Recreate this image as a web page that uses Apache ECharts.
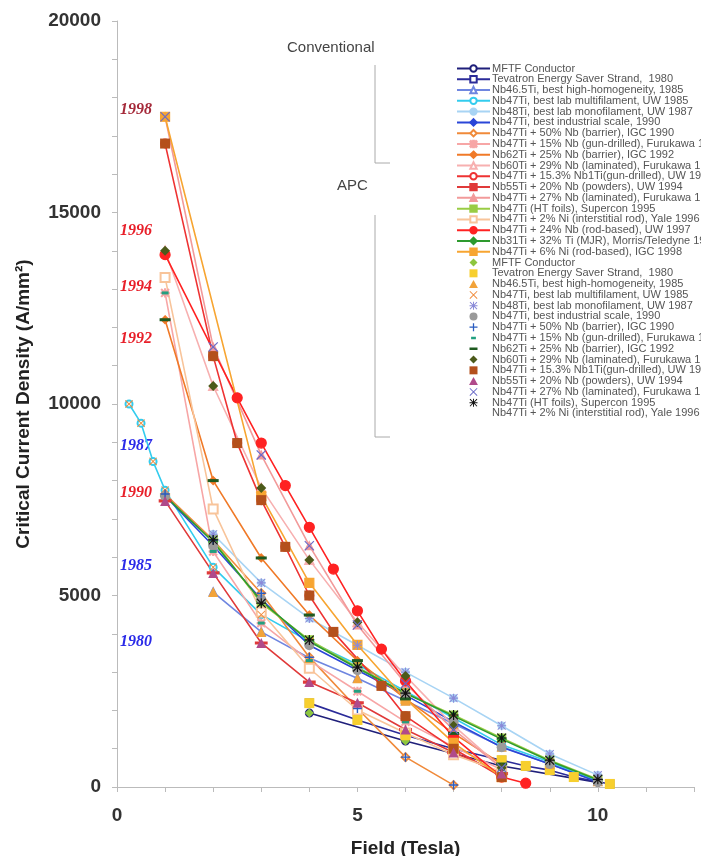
<!DOCTYPE html>
<html><head><meta charset="utf-8">
<script src="https://cdn.jsdelivr.net/npm/echarts@6/dist/echarts.min.js"></script>
<style>html,body{margin:0;padding:0;background:#fff}#c{width:701px;height:856px}</style>
</head><body><div id="c"></div>
<script>
// ---- series names ----
const names = [
  'MFTF Conductor',
  'Tevatron Energy Saver Strand,  1980',
  'Nb46.5Ti, best high-homogeneity, 1985',
  'Nb47Ti, best lab multifilament, UW 1985',
  'Nb48Ti, best lab monofilament, UW 1987',
  'Nb47Ti, best industrial scale, 1990',
  'Nb47Ti + 50% Nb (barrier), IGC 1990',
  'Nb47Ti + 15% Nb (gun-drilled), Furukawa 1992',
  'Nb62Ti + 25% Nb (barrier), IGC 1992',
  'Nb60Ti + 29% Nb (laminated), Furukawa 1993',
  'Nb47Ti + 15.3% Nb1Ti(gun-drilled), UW 1994',
  'Nb55Ti + 20% Nb (powders), UW 1994',
  'Nb47Ti + 27% Nb (laminated), Furukawa 1995',
  'Nb47Ti (HT foils), Supercon 1995',
  'Nb47Ti + 2% Ni (interstitial rod), Yale 1996',
  'Nb47Ti + 24% Nb (rod-based), UW 1997',
  'Nb31Ti + 32% Ti (MJR), Morris/Teledyne 1997',
  'Nb47Ti + 6% Ni (rod-based), IGC 1998'
];

// ---- data (Field in T, Jc in A/mm2) ----
const mftfX = [4, 6, 8, 10];
const mftfY = [1930, 1200, 550, 120];
const tevX = [4, 5, 6, 7, 8, 8.5, 9, 9.5, 10.25];
const tevY = [2190, 1750, 1350, 1000, 700, 550, 440, 260, 80];
const hhX = [2, 3, 4, 5, 6, 7, 8, 9, 10];
const hhY = [5090, 4050, 3370, 2840, 2250, 1650, 1050, 600, 150];
const multiX = [0.25, 0.5, 0.75, 1, 2, 3, 4, 5, 6, 7, 8, 9, 10];
const multiY = [10000, 9500, 8500, 7750, 5740, 4500, 3800, 3200, 2500, 1800, 1100, 650, 150];
const monoX = [2, 3, 4, 5, 6, 7, 8, 9, 10];
const monoY = [6600, 5330, 4400, 3700, 3000, 2320, 1600, 860, 310];
const indX = [1, 2, 3, 4, 5, 6, 7, 8, 9, 10];
const indY = [7600, 6300, 4900, 3700, 3050, 2400, 1700, 1040, 600, 130];
const igc90X = [1, 2, 3, 4, 5, 6, 7];
const igc90Y = [7650, 6450, 5060, 3390, 2050, 780, 50];
const fgunX = [1, 2, 3, 4, 5, 6, 7, 8];
const fgunY = [12900, 6150, 4280, 3300, 2500, 1700, 1050, 450];
const igc92X = [1, 2, 3, 4, 5, 6, 7, 8];
const igc92Y = [12200, 8000, 5980, 4490, 3300, 2300, 1400, 600];
const f29X = [1, 2, 3, 4, 5, 6, 7, 8];
const f29Y = [14000, 10470, 7810, 5930, 4300, 2900, 1600, 500];
const uw153X = [1, 2, 2.5, 3, 3.5, 4, 4.5, 5.5, 6, 7, 8];
const uw153Y = [16800, 11250, 8980, 7490, 6270, 5000, 4050, 2640, 1850, 1000, 260];
const uw94X = [1, 2, 3, 4, 5, 6, 7, 8];
const uw94Y = [7470, 5590, 3760, 2740, 2200, 1500, 900, 350];
const f27X = [1, 2, 3, 4, 5, 6, 7, 8];
const f27Y = [17500, 11490, 8670, 6300, 4230, 2700, 1500, 500];
const htX = [2, 3, 4, 5, 6, 7, 8, 9, 10];
const htY = [6450, 4800, 3840, 3130, 2450, 1880, 1280, 700, 200];
const yaleX = [1, 2, 3, 4, 5, 6, 7, 8];
const yaleY = [13300, 7260, 4570, 3100, 2010, 1410, 840, 400];
const uw97X = [1, 2.5, 3, 3.5, 4, 4.5, 5, 5.5, 6, 7, 8, 8.5];
const uw97Y = [13900, 10160, 8980, 7870, 6780, 5690, 4600, 3600, 2770, 1300, 260, 100];
const mjrX = [1, 2, 3, 4, 5, 6, 7, 8, 9, 10];
const mjrY = [7600, 6400, 4850, 3800, 3100, 2450, 1850, 1250, 680, 180];
const igc98X = [1, 3, 4, 5, 6, 7, 8];
const igc98Y = [17500, 7600, 5330, 3710, 2300, 1150, 260];

const yearLabels = ['1998', '1996', '1994', '1992', '1987', '1990', '1985', '1980'];

// ---- styles ----
const P_AST = 'path://M4.4,0H5.6V10H4.4Z M0,4.4H10V5.6H0Z M1,0.2L9.8,9L9,9.8L0.2,1Z M9,0.2L9.8,1L1,9.8L0.2,9Z';
const P_X = 'path://M1,0.2L9.8,9L9,9.8L0.2,1Z M9,0.2L9.8,1L1,9.8L0.2,9Z';
const P_PLUS = 'path://M4.2,0H5.8V10H4.2Z M0,4.2H10V5.8H0Z';
const P_SQ = 'path://M0,0H10V10H0Z';
const P_TRI = 'path://M5,0L10,9H0Z';
const P_DIA = 'path://M5,0L10,5L5,10L0,5Z';
const CORNERS = ' M0,0L0.01,0L0,0.01Z M10,10L9.99,10L10,9.99Z';
const P_DASHS = 'path://M2,3.5H8V6.5H2Z' + CORNERS;
const P_DASHL = 'path://M0,3.5H10V6.5H0Z' + CORNERS;

const lineStyles = [
  ['#1f1f7a', 'emptyCircle', 7],
  ['#2b2b99', 'emptyRect', 7],
  ['#6f86e0', 'emptyTriangle', 7],
  ['#33ccee', 'emptyCircle', 7],
  ['#a8d4f4', 'circle', 7],
  ['#2a46d8', 'diamond', 8],
  ['#f08a3a', 'emptyDiamond', 8],
  ['#f7a6a6', P_AST, 8],
  ['#f07a28', 'diamond', 8],
  ['#f7b0b0', 'emptyTriangle', 8],
  ['#ee3333', 'emptyCircle', 8],
  ['#e03a3a', 'rect', [8, 2]],
  ['#f29a9a', 'triangle', 8],
  ['#99cc44', 'rect', 8],
  ['#f8c49a', 'emptyRect', 9],
  ['#ff2222', 'circle', 10],
  ['#2e9a2e', 'diamond', 9],
  ['#f7a531', 'rect', 9]
];
// [color, symbol, size, legendIcon]
const markStyles = [
  ['#8dc63f', 'diamond', 9, P_DIA],
  ['#f7cf2e', 'rect', 10, P_SQ],
  ['#f2a33a', 'triangle', 10, P_TRI],
  ['#f08a3a', P_X, 8, P_X],
  ['#8a8ad8', P_AST, 9, P_AST],
  ['#9a9a9a', 'circle', 10, 'circle'],
  ['#2a5cc0', P_PLUS, 9, P_PLUS],
  ['#22a080', 'rect', [7, 3], P_DASHS],
  ['#1e5a20', 'rect', [11, 3], P_DASHL],
  ['#4c5a1a', 'diamond', 10, P_DIA],
  ['#b4501c', 'rect', 10, P_SQ],
  ['#b04a8a', 'triangle', 10, P_TRI],
  ['#6a6ac8', P_X, 10, P_X],
  ['#111111', P_AST, 10, P_AST],
  ['#ffffff', 'none', 1, 'none']
];

const allX = [mftfX, tevX, hhX, multiX, monoX, indX, igc90X, fgunX, igc92X, f29X, uw153X, uw94X, f27X, htX, yaleX, uw97X, mjrX, igc98X];
const allY = [mftfY, tevY, hhY, multiY, monoY, indY, igc90Y, fgunY, igc92Y, f29Y, uw153Y, uw94Y, f27Y, htY, yaleY, uw97Y, mjrY, igc98Y];
const zip = (xs, ys) => xs.map((x, i) => [x, ys[i]]);

const series = [];
const legendData = [];
for (let i = 0; i < 18; i++) {
  const [c, s, sz] = lineStyles[i];
  series.push({
    name: names[i], type: 'line', data: zip(allX[i], allY[i]),
    symbol: s, symbolSize: sz, showSymbol: true,
    lineStyle: { color: c, width: 1.6 }, itemStyle: { color: c, borderColor: c, borderWidth: 1.2 },
    emphasis: { disabled: true }, z: 2
  });
  legendData.push({ name: names[i] });
}
for (let i = 0; i < 15; i++) {
  const [c, s, sz, icon] = markStyles[i];
  const nm = names[i] + '\u200b';
  series.push({
    name: nm, type: 'scatter', data: zip(allX[i], allY[i]),
    symbol: s, symbolSize: sz,
    itemStyle: { color: c, opacity: 1 },
    emphasis: { disabled: true }, z: 3
  });
  legendData.push({ name: nm, icon: icon });
}

const yearPos = [[111, '#a52a3a'], [232, '#e8202a'], [288, '#e8202a'], [340, '#e8202a'], [447, '#2a2ae8'], [494, '#e8202a'], [567, '#2a2ae8'], [643, '#2a2ae8']];
const graphics = yearLabels.map((t, i) => ({
  type: 'text', left: 120, top: yearPos[i][0] - 9,
  style: { text: t, fill: yearPos[i][1], font: 'italic bold 16px "Liberation Serif", serif' }
}));
graphics.push(
  { type: 'text', left: 287, top: 40, style: { text: 'Conventional', fill: '#444', font: '15px "Liberation Sans", Arial, sans-serif' } },
  { type: 'text', left: 337, top: 178, style: { text: 'APC', fill: '#444', font: '15px "Liberation Sans", Arial, sans-serif' } },
  { type: 'polyline', shape: { points: [[375, 65], [375, 163], [390, 163]] }, style: { stroke: '#aaa', lineWidth: 1, fill: null } },
  { type: 'polyline', shape: { points: [[375, 215], [375, 437], [390, 437]] }, style: { stroke: '#aaa', lineWidth: 1, fill: null } }
);

const chart = echarts.init(document.getElementById('c'), null, { renderer: 'canvas' });
chart.setOption({
  animation: false,
  backgroundColor: '#fff',
  grid: { left: 117, right: 7, top: 21, bottom: 69, containLabel: false, outerBoundsMode: 'none' },
  xAxis: {
    type: 'value', min: 0, max: 12, interval: 1,
    name: 'Field (Tesla)', nameLocation: 'middle', nameGap: 52,
    nameTextStyle: { fontSize: 19, fontWeight: 'bold', color: '#222', fontFamily: 'Liberation Sans' },
    axisLine: { lineStyle: { color: '#bbb' } },
    axisTick: { show: true, length: 5, lineStyle: { color: '#bbb' } },
    axisLabel: { formatter: v => (v % 5 === 0 ? String(v) : ''), fontSize: 19, fontWeight: 'bold', color: '#333', margin: 19, fontFamily: 'Liberation Sans' },
    splitLine: { show: false }
  },
  yAxis: {
    type: 'value', min: 0, max: 20000, interval: 1000,
    name: 'Critical Current Density (A/mm²)', nameLocation: 'middle', nameGap: 84,
    nameTextStyle: { fontSize: 19, fontWeight: 'bold', color: '#222', fontFamily: 'Liberation Sans' },
    axisLine: { show: true, lineStyle: { color: '#bbb' } },
    axisTick: { show: true, length: 5, lineStyle: { color: '#bbb' } },
    axisLabel: { formatter: v => (v % 5000 === 0 ? String(v) : ''), fontSize: 19, fontWeight: 'bold', color: '#333', margin: 16, fontFamily: 'Liberation Sans' },
    splitLine: { show: false }
  },
  legend: {
    data: legendData, orient: 'vertical', left: 451, top: 58,
    itemWidth: 33, itemHeight: 8, itemGap: -0.22, selectedMode: false, symbolKeepAspect: true,
    textStyle: { fontSize: 11, color: '#555', lineHeight: 10, fontFamily: 'Liberation Sans', padding: [0, 0, 0, -3] }
  },
  graphic: graphics,
  series: series
});
</script>
</body></html>
